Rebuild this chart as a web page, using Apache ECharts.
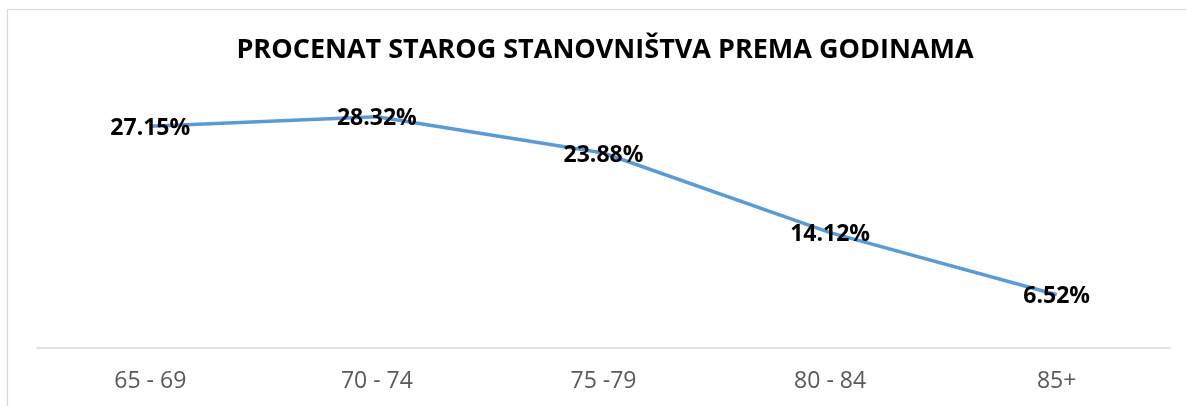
<!DOCTYPE html>
<html>
<head>
<meta charset="utf-8">
<script src="https://cdn.jsdelivr.net/npm/echarts@6/dist/echarts.min.js"></script>
<style>
html,body{margin:0;padding:0;background:#fff;}
#pic0{width:1186px;height:406px;}
</style>
</head>
<body>
<div id="pic0"></div>
<script>
// starosne grupe i procenti
var kategorije = ['65 - 69', '70 - 74', '75 -79', '80 - 84', '85+'];
var procenti = [27.15, 28.32, 23.88, 14.12, 6.52];

var myChart = echarts.init(document.getElementById('pic0'));

var option = {
    backgroundColor: '#fff',
    animation: false,
    title: {
        text: 'PROCENAT STAROG STANOVNIŠTVA PREMA GODINAMA',
        left: 600,
        textAlign: 'center',
        top: 32,
        textStyle: {
            fontFamily: 'Open Sans',
            fontWeight: 'bold',
            fontSize: 27,
            color: '#000'
        }
    },
    graphic: [{
        type: 'rect',
        shape: {x: 7.5, y: 9.5, width: 1300, height: 500},
        style: {fill: 'none', stroke: '#d9d9d9', lineWidth: 1.2},
        silent: true
    }],
    grid: {
        left: 37,
        right: 16,
        top: 103,
        bottom: 58
    },
    xAxis: {
        type: 'category',
        data: kategorije,
        boundaryGap: true,
        axisLine: {lineStyle: {color: '#d9d9d9', width: 1.5}},
        axisTick: {show: false},
        axisLabel: {
            color: '#595959',
            fontFamily: 'Open Sans',
            fontSize: 23,
            margin: 22
        }
    },
    yAxis: {
        type: 'value',
        min: 0,
        max: 30,
        show: false,
        splitLine: {show: false}
    },
    series: [{
        type: 'line',
        data: procenti,
        symbol: 'circle',
        symbolSize: 0.1,
        lineStyle: {color: '#5B9BD5', width: 3.5},
        itemStyle: {color: '#5B9BD5'},
        label: {
            show: true,
            position: 'inside',
            offset: [0, 2],
            formatter: function (p) { return p.value.toFixed(2) + '%'; },
            fontFamily: 'Open Sans',
            fontWeight: 'bold',
            fontSize: 23,
            color: '#000'
        }
    }]
};

myChart.setOption(option);
</script>
</body>
</html>
